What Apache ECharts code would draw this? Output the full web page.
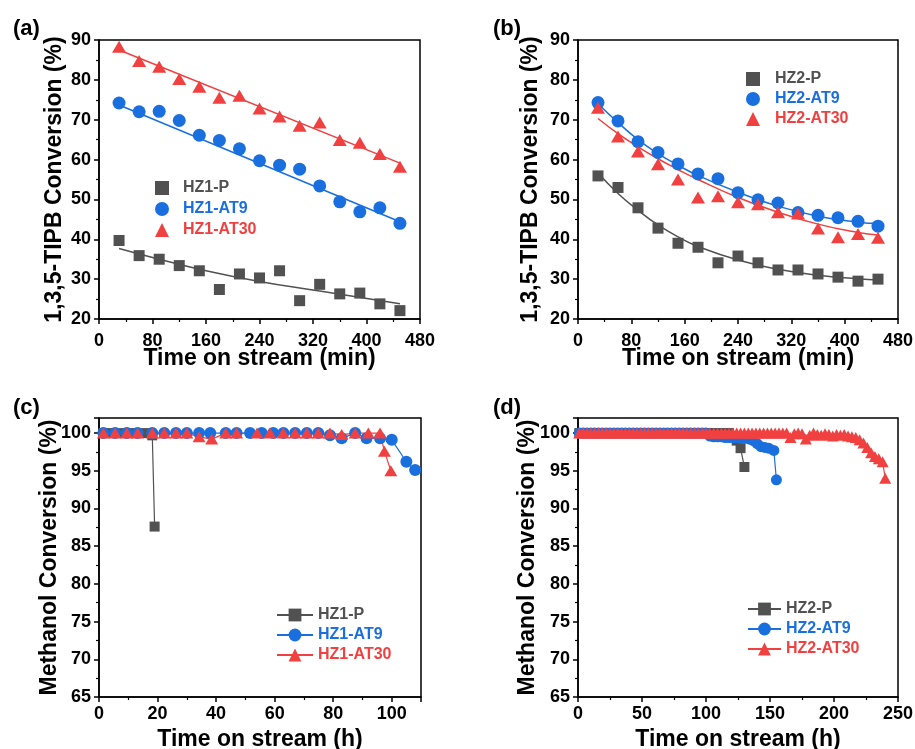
<!DOCTYPE html>
<html>
<head>
<meta charset="UTF-8">
<title>Conversion panels</title>
<script src="https://cdn.jsdelivr.net/npm/echarts@6.0.0/dist/echarts.min.js"></script>
<style>
  body { margin: 0; background: #fff; }
  .panel { position: absolute; }
</style>
</head>
<body>
<div id="pa" class="panel" style="left:0;top:0;width:457px;height:372px;"></div>
<div id="pb" class="panel" style="left:457px;top:0;width:458px;height:372px;"></div>
<div id="pc" class="panel" style="left:0;top:372px;width:457px;height:377px;"></div>
<div id="pd" class="panel" style="left:457px;top:372px;width:458px;height:377px;"></div>
<script type="text/javascript">
// (a)/(b) TIPB conversion, time in min
var timeMin = [30, 60, 90, 120, 150, 180, 210, 240, 270, 300, 330, 360, 390, 420, 450];
var hz1P    = [39.7, 35.9, 35.0, 33.4, 32.1, 27.4, 31.3, 30.3, 32.1, 24.6, 28.7, 26.3, 26.5, 23.8, 22.1];
var hz1AT9  = [74.2, 72.0, 72.1, 69.8, 66.1, 64.8, 62.7, 59.7, 58.6, 57.6, 53.4, 49.4, 46.9, 47.9, 44.0];
var hz1AT30 = [88.3, 84.7, 83.3, 80.2, 78.3, 75.5, 76.0, 72.8, 70.8, 68.5, 69.3, 64.9, 64.2, 61.4, 58.2];
var hz2P    = [55.9, 53.0, 47.9, 42.8, 39.0, 38.0, 34.1, 35.8, 34.1, 32.3, 32.3, 31.3, 30.5, 29.5, 30.0];
var hz2AT9  = [74.3, 69.7, 64.5, 61.8, 58.9, 56.4, 55.2, 51.7, 49.9, 49.1, 46.7, 46.0, 45.4, 44.5, 43.3];
var hz2AT30 = [73.0, 65.8, 62.0, 58.8, 55.0, 50.5, 50.8, 49.3, 48.8, 46.8, 46.5, 42.7, 40.5, 41.3, 40.4];

// fitted curves
var fitLinX     = [30, 450];
var fit1AT9     = [73.7, 44.4];
var fit1AT30    = [87.5, 59.1];
var fit1PX      = [30, 90, 150, 240, 330, 450];
var fit1P       = [37.7, 35.0, 32.5, 29.4, 27.0, 23.8];
var fit2X       = [30, 60, 90, 120, 150, 180, 240, 300, 360, 420, 450];
var fit2P       = [56.6, 51.5, 47.3, 43.6, 40.6, 38.2, 34.8, 32.5, 31.0, 30.1, 29.8];
var fit2AT9     = [74.0, 69.3, 65.0, 61.5, 58.6, 56.0, 51.8, 48.3, 45.8, 44.3, 44.0];
var fit2AT30    = [70.3, 66.5, 63.2, 60.2, 57.5, 55.0, 50.5, 46.8, 43.8, 41.7, 41.1];

// (c) methanol conversion, HZ1 samples, time in h
var cPX    = [1.5, 4, 7, 10, 13, 16, 18.2, 19];
var cP     = [100, 100, 100, 100, 100, 100, 99.7, 87.6];
var cAT9X  = [1.5, 5.5, 9.5, 13.2, 18.2, 22.3, 26.3, 30, 34.2, 38, 43.3, 47, 51.6, 55.6, 59.5, 63, 67, 71, 74.9,
              78.9, 82.9, 87.5, 91.4, 96, 100, 105, 108];
var cAT9   = [100, 100, 100, 100, 100, 100, 100, 100, 100, 100, 100, 100, 100, 100, 100, 100, 100, 100, 100,
              99.7, 99.3, 100, 99.3, 99.3, 99.1, 96.2, 95.1];
var cAT30X = [1.5, 5.5, 9.5, 13.2, 18.2, 22.3, 26.3, 30, 34.2, 38.5, 43.3, 47, 54, 58.4, 62.9, 67, 71, 74.9, 78.9,
              82.9, 87.5, 92, 96, 97.5, 99.7];
var cAT30  = [100, 100, 100, 100, 100, 100, 100, 100, 99.5, 99.2, 100, 100, 100, 100, 100, 100, 100, 100, 100,
              99.8, 100, 100, 100, 97.6, 95.0];

// (d) methanol conversion, HZ2 samples, time in h
var dPX = [1, 4, 7, 10, 13, 16, 19, 22, 25, 28, 31, 34, 37, 40, 43, 46, 49, 52, 55, 58, 61, 64, 67, 70, 73, 76, 79,
           82, 85, 88, 91, 94, 97, 100, 103, 106, 109, 112, 115, 118, 121, 124, 127, 130];
var dP  = [100, 100, 100, 100, 100, 100, 100, 100, 100, 100, 100, 100, 100, 100, 100, 100, 100, 100, 100, 100,
           100, 100, 100, 100, 100, 100, 100, 100, 100, 100, 100, 100, 100, 100, 100, 100, 100, 100, 100, 100,
           99.6, 99.0, 98.0, 95.5];
var dAT9X = [1, 4, 7, 10, 13, 16, 19, 22, 25, 28, 31, 34, 37, 40, 43, 46, 49, 52, 55, 58, 61, 64, 67, 70, 73, 76,
             79, 82, 85, 88, 91, 94, 97, 100, 103, 106, 109, 112, 115, 118, 121, 124, 127, 130, 134, 137, 140, 143,
             146, 149, 153, 155];
var dAT9  = [100, 100, 100, 100, 100, 100, 100, 100, 100, 100, 100, 100, 100, 100, 100, 100, 100, 100, 100, 100,
             100, 100, 100, 100, 100, 100, 100, 100, 100, 100, 100, 100, 100, 100,
             99.6, 99.5, 99.5, 99.5, 99.4, 99.4, 99.4, 99.4, 99.3, 99.3, 99.2, 99.0, 98.6, 98.2, 98.1, 98.0, 97.7, 93.8];
var dAT30X = [1, 4, 7, 10, 13, 16, 19, 22, 25, 28, 31, 34, 37, 40, 43, 46, 49, 52, 55, 58, 61, 64, 67, 70, 73, 76,
              79, 82, 85, 88, 91, 94, 97, 100, 103, 106, 109, 112, 115, 118, 121, 124, 127, 130, 133, 136, 139, 142,
              145, 148, 151, 154, 157, 160, 163, 166, 169, 172, 175, 178, 181, 184, 187, 190, 193, 196, 199, 202,
              205, 208, 211, 214, 217, 220, 223, 226, 229, 232, 235, 238, 240];
var dAT30  = [100, 100, 100, 100, 100, 100, 100, 100, 100, 100, 100, 100, 100, 100, 100, 100, 100, 100, 100, 100,
              100, 100, 100, 100, 100, 100, 100, 100, 100, 100, 100, 100, 100, 100, 100, 100, 100, 100, 100, 100,
              100, 100, 100, 100, 100, 100, 100, 100, 100, 100, 100, 100, 100, 100, 100,
              99.4, 99.9, 100, 99.9, 99.2, 99.7, 100, 99.8, 99.7, 99.9, 99.8, 99.6, 99.8, 99.7, 99.8, 99.6, 99.5,
              99.4, 99.1, 98.7, 98.1, 97.4, 96.9, 96.6, 96.2, 94.0];

var FONT = "'Liberation Sans', Arial, sans-serif";
var GRAY = '#515151', RED = '#F14040', BLUE = '#1A6FDF';

function zip(xs, ys) {
  var out = [];
  for (var i = 0; i < xs.length; i++) out.push([xs[i], ys[i]]);
  return out;
}

function axis(o) {
  return {
    type: 'value', min: o.min, max: o.max, interval: o.interval,
    name: o.name, nameLocation: 'middle', nameGap: o.nameGap, nameMoveOverlap: false,
    nameTextStyle: { fontFamily: FONT, fontWeight: 'bold', fontSize: 23, color: '#000' },
    axisLine: { show: true, onZero: false, lineStyle: { color: '#000', width: 1.5 } },
    axisTick: { show: true, length: 5, lineStyle: { color: '#000', width: 1.5 } },
    minorTick: { show: true, splitNumber: 2, length: 3, lineStyle: { color: '#000', width: 1.2 } },
    splitLine: { show: false },
    minorSplitLine: { show: false },
    axisLabel: { fontFamily: FONT, fontWeight: 'bold', fontSize: 18, color: '#000',
                 margin: o.margin, showMaxLabel: o.showMax }
  };
}

function legendItems(names) {
  var cols = [GRAY, BLUE, RED];
  return names.map(function (n, i) { return { name: n, textStyle: { color: cols[i] } }; });
}

function fitLine(xs, ys, color) {
  return { type: 'line', data: zip(xs, ys), smooth: true, symbol: 'none', silent: true,
           lineStyle: { color: color, width: 1.5 }, z: 1 };
}

function scatter(name, ys, symbol, size, color) {
  return { type: 'scatter', name: name, data: zip(timeMin, ys), symbol: symbol, symbolSize: size,
           itemStyle: { color: color, opacity: 1 }, z: 2 };
}

function trend(name, xs, ys, symbol, size, color) {
  return { type: 'line', name: name, data: zip(xs, ys), symbol: symbol, symbolSize: size,
           showAllSymbol: true, lineStyle: { color: color, width: 1.2 }, itemStyle: { color: color } };
}

function base(label, grid, legend) {
  return {
    animation: false,
    backgroundColor: '#fff',
    title: { text: label, left: grid.labelLeft, top: grid.labelTop,
             textStyle: { fontFamily: FONT, fontWeight: 'bold', fontSize: 22, color: '#000' } },
    grid: { left: grid.left, top: grid.top, width: grid.width, height: grid.height,
            outerBoundsMode: 'none', containLabel: false,
            show: true, borderColor: '#000', borderWidth: 1.5, backgroundColor: 'transparent' },
    legend: legend
  };
}

// (a)
var optA = base('(a)', { left: 99, top: 40, width: 321, height: 279, labelLeft: 8, labelTop: 13 }, {
  left: 155, top: 180, padding: 0, orient: 'vertical', itemWidth: 14, itemHeight: 14, itemGap: 5,
  textStyle: { fontFamily: FONT, fontWeight: 'bold', fontSize: 16, padding: [0, 0, 0, 9] },
  data: legendItems(['HZ1-P', 'HZ1-AT9', 'HZ1-AT30'])
});
optA.xAxis = axis({ min: 0, max: 480, interval: 80, name: 'Time on stream (min)', nameGap: 28, margin: 13 });
optA.yAxis = axis({ min: 20, max: 90, interval: 10, name: '1,3,5-TIPB Conversion (%)', nameGap: 33, margin: 8 });
optA.series = [
  fitLine(fit1PX, fit1P, GRAY), fitLine(fitLinX, fit1AT9, BLUE), fitLine(fitLinX, fit1AT30, RED),
  scatter('HZ1-P', hz1P, 'rect', 11, GRAY),
  scatter('HZ1-AT9', hz1AT9, 'circle', 13, BLUE),
  scatter('HZ1-AT30', hz1AT30, 'triangle', [14, 12], RED)
];

// (b)
var optB = base('(b)', { left: 121, top: 40, width: 320, height: 279, labelLeft: 31, labelTop: 13 }, {
  left: 289, top: 71, padding: 0, orient: 'vertical', itemWidth: 14, itemHeight: 14, itemGap: 4,
  textStyle: { fontFamily: FONT, fontWeight: 'bold', fontSize: 16, padding: [0, 0, 0, 10] },
  data: legendItems(['HZ2-P', 'HZ2-AT9', 'HZ2-AT30'])
});
optB.xAxis = axis({ min: 0, max: 480, interval: 80, name: 'Time on stream (min)', nameGap: 28, margin: 13 });
optB.yAxis = axis({ min: 20, max: 90, interval: 10, name: '1,3,5-TIPB Conversion (%)', nameGap: 36, margin: 8 });
optB.series = [
  fitLine(fit2X, fit2P, GRAY), fitLine(fit2X, fit2AT9, BLUE), fitLine(fit2X, fit2AT30, RED),
  scatter('HZ2-P', hz2P, 'rect', 11, GRAY),
  scatter('HZ2-AT9', hz2AT9, 'circle', 13, BLUE),
  scatter('HZ2-AT30', hz2AT30, 'triangle', [14, 12], RED)
];

// (c)
var optC = base('(c)', { left: 99, top: 46, width: 322, height: 279, labelLeft: 8, labelTop: 20 }, {
  left: 276, top: 235, padding: 0, orient: 'vertical', itemWidth: 36, itemHeight: 16, itemGap: 4,
  textStyle: { fontFamily: FONT, fontWeight: 'bold', fontSize: 16 },
  data: legendItems(['HZ1-P', 'HZ1-AT9', 'HZ1-AT30'])
});
optC.xAxis = axis({ min: 0, max: 110, interval: 20, name: 'Time on stream (h)', nameGap: 31, margin: 8, showMax: false });
optC.yAxis = axis({ min: 65, max: 102, interval: 5, name: 'Methanol Conversion (%)', nameGap: 38, margin: 8, showMax: false });
optC.series = [
  trend('HZ1-P', cPX, cP, 'rect', 10, GRAY),
  trend('HZ1-AT9', cAT9X, cAT9, 'circle', 12, BLUE),
  trend('HZ1-AT30', cAT30X, cAT30, 'triangle', [13, 11], RED)
];

// (d)
var optD = base('(d)', { left: 121, top: 46, width: 320, height: 279, labelLeft: 31, labelTop: 20 }, {
  left: 290, top: 229, padding: 0, orient: 'vertical', itemWidth: 33, itemHeight: 16, itemGap: 4,
  textStyle: { fontFamily: FONT, fontWeight: 'bold', fontSize: 16 },
  data: legendItems(['HZ2-P', 'HZ2-AT9', 'HZ2-AT30'])
});
optD.xAxis = axis({ min: 0, max: 250, interval: 50, name: 'Time on stream (h)', nameGap: 31, margin: 8 });
optD.yAxis = axis({ min: 65, max: 102, interval: 5, name: 'Methanol Conversion (%)', nameGap: 39, margin: 8, showMax: false });
optD.series = [
  trend('HZ2-P', dPX, dP, 'rect', 10, GRAY),
  trend('HZ2-AT9', dAT9X, dAT9, 'circle', 11, BLUE),
  trend('HZ2-AT30', dAT30X, dAT30, 'triangle', [12, 11], RED)
];

echarts.init(document.getElementById('pa')).setOption(optA);
echarts.init(document.getElementById('pb')).setOption(optB);
echarts.init(document.getElementById('pc')).setOption(optC);
echarts.init(document.getElementById('pd')).setOption(optD);
</script>
</body>
</html>
